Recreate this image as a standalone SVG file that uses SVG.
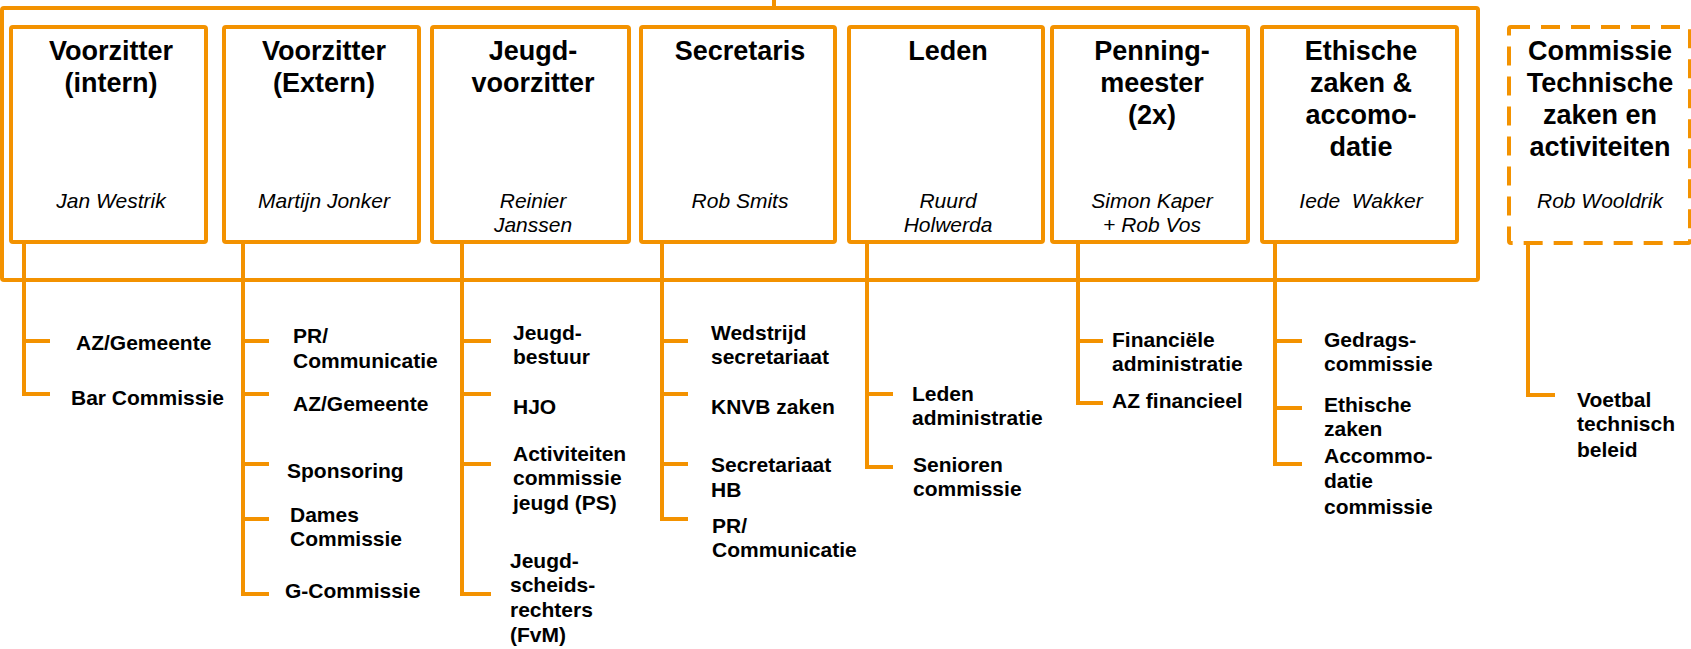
<svg xmlns="http://www.w3.org/2000/svg" width="1691" height="649" viewBox="0 0 1691 649">
<style>
.box{fill:#fff;stroke:#F39200;stroke-width:4}
.dash{fill:#fff;stroke:#F39200;stroke-width:4;stroke-dasharray:19 11}
.ln{fill:none;stroke:#F39200;stroke-width:4}
.t{font-family:"Liberation Sans",Arial,sans-serif;font-weight:bold;font-size:27px;fill:#000;text-anchor:middle}
.n{font-family:"Liberation Sans",Arial,sans-serif;font-style:italic;font-size:21px;fill:#000;text-anchor:middle}
.s{font-family:"Liberation Sans",Arial,sans-serif;font-weight:bold;font-size:21px;fill:#000}
</style>
<rect width="1691" height="649" fill="#fff"/>
<g id="connectors">
<rect class="ln" x="2" y="8" width="1476" height="272" rx="2"/>
<line class="ln" x1="774" y1="0" x2="774" y2="8"/>
<path class="ln" d="M24,242 V394 H50 M24,341 H50"/>
<path class="ln" d="M243,242 V594 H269 M243,341 H269 M243,394 H269 M243,464 H269 M243,519 H269"/>
<path class="ln" d="M462,242 V594 H491 M462,341 H491 M462,394 H491 M462,464 H491"/>
<path class="ln" d="M662,242 V519 H688 M662,341 H688 M662,394 H688 M662,464 H688"/>
<path class="ln" d="M867,242 V467 H893 M867,394 H893"/>
<path class="ln" d="M1078,242 V403 H1103 M1078,341 H1103"/>
<path class="ln" d="M1275,242 V464 H1302 M1275,341 H1302 M1275,408 H1302"/>
<path class="ln" d="M1528,243 V395 H1555"/>
</g>
<g id="n1"><rect class="box" x="11" y="27" width="195" height="215" rx="2"/>
<text class="t" x="111" y="60">Voorzitter</text><text class="t" x="111" y="92">(intern)</text>
<text class="n" x="111" y="208">Jan Westrik</text></g>
<g id="n2"><rect class="box" x="224" y="27" width="195" height="215" rx="2"/>
<text class="t" x="324" y="60">Voorzitter</text><text class="t" x="324" y="92">(Extern)</text>
<text class="n" x="324" y="208">Martijn Jonker</text></g>
<g id="n3"><rect class="box" x="432" y="27" width="197" height="215" rx="2"/>
<text class="t" x="533" y="60">Jeugd-</text><text class="t" x="533" y="92">voorzitter</text>
<text class="n" x="533" y="208">Reinier</text><text class="n" x="533" y="232">Janssen</text></g>
<g id="n4"><rect class="box" x="641" y="27" width="194" height="215" rx="2"/>
<text class="t" x="740" y="60">Secretaris</text>
<text class="n" x="740" y="208">Rob Smits</text></g>
<g id="n5"><rect class="box" x="849" y="27" width="194" height="215" rx="2"/>
<text class="t" x="948" y="60">Leden</text>
<text class="n" x="948" y="208">Ruurd</text><text class="n" x="948" y="232">Holwerda</text></g>
<g id="n6"><rect class="box" x="1052" y="27" width="196" height="215" rx="2"/>
<text class="t" x="1152" y="60">Penning-</text><text class="t" x="1152" y="92">meester</text><text class="t" x="1152" y="124">(2x)</text>
<text class="n" x="1152" y="208">Simon Kaper</text><text class="n" x="1152" y="232">+ Rob Vos</text></g>
<g id="n7"><rect class="box" x="1262" y="27" width="195" height="215" rx="2"/>
<text class="t" x="1361" y="60">Ethische</text><text class="t" x="1361" y="92">zaken &amp;</text><text class="t" x="1361" y="124">accomo-</text><text class="t" x="1361" y="156">datie</text>
<text class="n" x="1361" y="208" xml:space="preserve">Iede  Wakker</text></g>
<g id="n8"><rect class="dash" x="1509" y="27" width="181" height="216" rx="2"/>
<text class="t" x="1600" y="60">Commissie</text><text class="t" x="1600" y="92">Technische</text><text class="t" x="1600" y="124">zaken en</text><text class="t" x="1600" y="156">activiteiten</text>
<text class="n" x="1600" y="208">Rob Wooldrik</text></g>
<g id="sub1">
<text class="s" x="76" y="350">AZ/Gemeente</text>
<text class="s" x="71" y="405">Bar Commissie</text></g>
<g id="sub2">
<text class="s" x="293" y="343">PR/</text><text class="s" x="293" y="368">Communicatie</text>
<text class="s" x="293" y="411">AZ/Gemeente</text>
<text class="s" x="287" y="478">Sponsoring</text>
<text class="s" x="290" y="522">Dames</text><text class="s" x="290" y="546">Commissie</text>
<text class="s" x="285" y="598">G-Commissie</text></g>
<g id="sub3">
<text class="s" x="513" y="340">Jeugd-</text><text class="s" x="513" y="364">bestuur</text>
<text class="s" x="513" y="414">HJO</text>
<text class="s" x="513" y="461">Activiteiten</text><text class="s" x="513" y="485">commissie</text><text class="s" x="513" y="510">jeugd  (PS)</text>
<text class="s" x="510" y="568">Jeugd-</text><text class="s" x="510" y="592">scheids-</text><text class="s" x="510" y="617">rechters</text><text class="s" x="510" y="642">(FvM)</text></g>
<g id="sub4">
<text class="s" x="711" y="340">Wedstrijd</text><text class="s" x="711" y="364">secretariaat</text>
<text class="s" x="711" y="414">KNVB zaken</text>
<text class="s" x="711" y="472">Secretariaat</text><text class="s" x="711" y="497">HB</text>
<text class="s" x="712" y="533">PR/</text><text class="s" x="712" y="557">Communicatie</text></g>
<g id="sub5">
<text class="s" x="912" y="401">Leden</text><text class="s" x="912" y="425">administratie</text>
<text class="s" x="913" y="472">Senioren</text><text class="s" x="913" y="496">commissie</text></g>
<g id="sub6">
<text class="s" x="1112" y="347">Financiële</text><text class="s" x="1112" y="371">administratie</text>
<text class="s" x="1112" y="408">AZ financieel</text></g>
<g id="sub7">
<text class="s" x="1324" y="347">Gedrags-</text><text class="s" x="1324" y="371">commissie</text>
<text class="s" x="1324" y="412">Ethische</text><text class="s" x="1324" y="436">zaken</text>
<text class="s" x="1324" y="463">Accommo-</text><text class="s" x="1324" y="488">datie</text><text class="s" x="1324" y="514">commissie</text></g>
<g id="sub8">
<text class="s" x="1577" y="407">Voetbal</text><text class="s" x="1577" y="431">technisch</text><text class="s" x="1577" y="457">beleid</text></g>
</svg>
